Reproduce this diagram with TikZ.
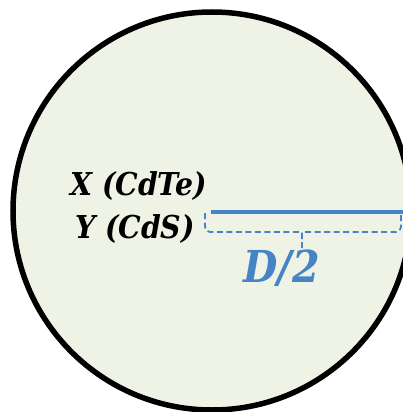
\documentclass[tikz,border=0pt]{standalone}
\usepackage{fontspec}
\setmainfont{DejaVu Serif Condensed}
\definecolor{discfill}{RGB}{239,243,229}
\definecolor{dimblue}{RGB}{70,132,198}
\begin{document}
\begin{tikzpicture}[x=1pt,y=-1pt,
  lbl/.style={font=\bfseries\itshape\fontsize{31.5}{31.5}\selectfont, inner sep=0pt},
  dlbl/.style={font=\bfseries\itshape\fontsize{44}{44}\selectfont, text=dimblue, inner sep=0pt},
  radius line/.style={draw=dimblue, line width=4pt},
  bracepath/.style={draw=dimblue, line width=1.8pt, dash pattern=on 6pt off 3.5pt, rounded corners=5pt}]
\useasboundingbox (0,0) rectangle (403,412);
\clip (0,0) rectangle (403,412);
\fill[white] (0,0) rectangle (403,412);
\draw[fill=discfill, line width=5.5pt] (212,211) circle[radius=199];
\coordinate (ctr) at (211,212);
\coordinate (edge) at (403,212);
\draw[radius line] (ctr) -- (edge);
\coordinate (bl) at (205,213);
\coordinate (br) at (401,213);
\coordinate (tip) at (302,250);
\draw[bracepath] (bl) -- (205,232) -- (296,232) .. controls (302,232) .. (302,239) -- (tip);
\draw[bracepath] (302,239) .. controls (302,232) .. (308,232) -- (401,232) -- (br);
\node[lbl, anchor=base east] (xlab) at (207,195) {X (CdTe)};
\node[lbl, anchor=base east] (ylab) at (195,238) {Y (CdS)};
\node[dlbl, anchor=base west] (dlab) at (243,282) {D/2};
\end{tikzpicture}
\end{document}
